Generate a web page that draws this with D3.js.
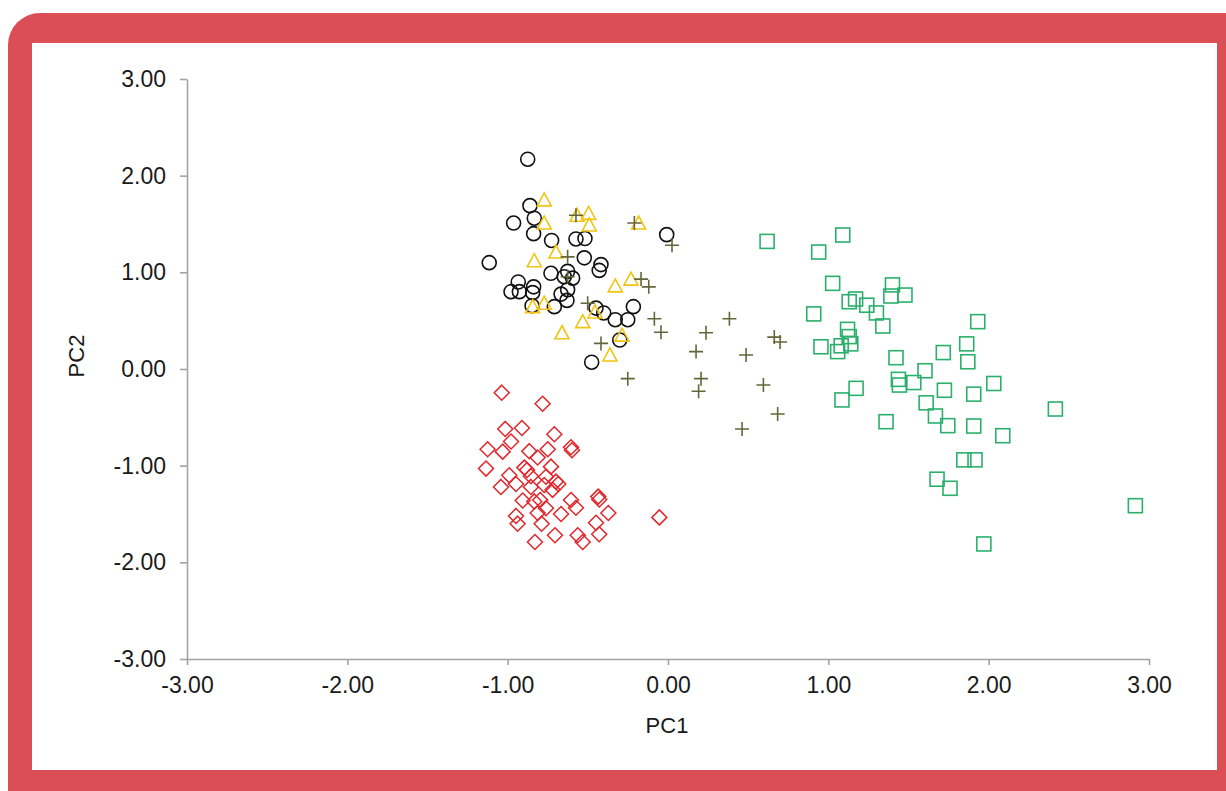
<!DOCTYPE html>
<html>
<head>
<meta charset="utf-8">
<script src="https://cdn.jsdelivr.net/npm/d3@7/dist/d3.min.js"></script>
<style>
  html, body { margin: 0; padding: 0; background: #ffffff; }
  svg { display: block; }
</style>
</head>
<body>
<svg id="chart" width="1226" height="791"></svg>
<script>
// ---- data (PC1, PC2) ----
const circlePoints = [
  [-0.875, 2.17], [-0.861, 1.69], [-0.834, 1.56], [-0.963, 1.51], [-0.838, 1.40],
  [-0.726, 1.33], [-0.574, 1.345], [-0.518, 1.35], [-0.008, 1.39], [-1.115, 1.10],
  [-0.522, 1.15], [-0.418, 1.08], [-0.429, 1.02], [-0.73, 0.99], [-0.626, 1.01],
  [-0.595, 0.94], [-0.647, 0.955], [-0.934, 0.90], [-0.979, 0.80], [-0.927, 0.80],
  [-0.838, 0.85], [-0.844, 0.79], [-0.667, 0.775], [-0.626, 0.82], [-0.63, 0.71],
  [-0.848, 0.655], [-0.709, 0.645], [-0.449, 0.63], [-0.401, 0.58], [-0.216, 0.645],
  [-0.329, 0.51], [-0.251, 0.51], [-0.301, 0.30], [-0.476, 0.07]
];
const trianglePoints = [
  [-0.772, 1.75], [-0.772, 1.51], [-0.495, 1.61], [-0.491, 1.49], [-0.568, 1.59],
  [-0.183, 1.51], [-0.699, 1.21], [-0.834, 1.12], [-0.329, 0.86], [-0.231, 0.93],
  [-0.844, 0.645], [-0.772, 0.68], [-0.455, 0.59], [-0.532, 0.49], [-0.661, 0.375],
  [-0.287, 0.35], [-0.362, 0.145]
];
const plusPoints = [
  [-0.574, 1.59], [-0.21, 1.51], [0.025, 1.28], [-0.626, 1.16], [-0.168, 0.93],
  [-0.12, 0.85], [-0.626, 0.955], [-0.501, 0.68], [-0.085, 0.52], [-0.044, 0.38],
  [-0.418, 0.265], [0.175, 0.18], [-0.251, -0.10], [0.383, 0.52], [0.237, 0.375],
  [0.663, 0.33], [0.699, 0.28], [0.487, 0.145], [0.206, -0.10], [0.191, -0.23],
  [0.595, -0.165], [0.684, -0.465], [0.462, -0.62]
];
const diamondPoints = [
  [-1.037, -0.245], [-0.782, -0.36], [-1.015, -0.62], [-0.911, -0.61], [-0.709, -0.675],
  [-0.979, -0.75], [-1.125, -0.83], [-1.031, -0.855], [-0.865, -0.85], [-0.75, -0.83],
  [-0.605, -0.81], [-0.599, -0.84], [-0.813, -0.915], [-1.135, -1.03], [-0.896, -1.02],
  [-0.879, -1.045], [-0.73, -1.01], [-0.99, -1.10], [-0.855, -1.11], [-0.761, -1.115],
  [-0.699, -1.165], [-0.684, -1.19], [-1.042, -1.22], [-0.948, -1.19], [-0.855, -1.22],
  [-0.772, -1.20], [-0.72, -1.25], [-0.906, -1.36], [-0.834, -1.37], [-0.797, -1.355],
  [-0.605, -1.355], [-0.435, -1.32], [-0.429, -1.35], [-0.574, -1.435], [-0.761, -1.44],
  [-0.813, -1.49], [-0.948, -1.52], [-0.938, -1.60], [-0.788, -1.60], [-0.667, -1.50],
  [-0.372, -1.49], [-0.449, -1.59], [-0.429, -1.71], [-0.705, -1.72], [-0.83, -1.79],
  [-0.563, -1.72], [-0.532, -1.79], [-0.054, -1.535]
];
const squarePoints = [
  [1.09, 1.386], [0.94, 1.21], [0.618, 1.32], [1.027, 0.886], [1.40, 0.87],
  [1.39, 0.755], [1.478, 0.765], [1.13, 0.696], [1.17, 0.724], [1.24, 0.66],
  [1.30, 0.58], [1.34, 0.445], [0.909, 0.57], [1.12, 0.41], [1.13, 0.335],
  [1.14, 0.26], [0.954, 0.23], [1.058, 0.18], [1.08, 0.24], [1.932, 0.49],
  [1.863, 0.26], [1.87, 0.075], [1.717, 0.17], [1.422, 0.117], [1.603, -0.018],
  [1.437, -0.107], [1.443, -0.166], [1.533, -0.14], [1.724, -0.22], [2.032, -0.15],
  [1.907, -0.26], [1.173, -0.20], [1.085, -0.32], [1.61, -0.35], [1.36, -0.545],
  [1.668, -0.486], [1.745, -0.586], [1.907, -0.59], [2.088, -0.69], [2.416, -0.414],
  [1.845, -0.94], [1.915, -0.94], [1.678, -1.14], [1.759, -1.234], [2.915, -1.414],
  [1.97, -1.81]
];
const xTicks = [-3, -2, -1, 0, 1, 2, 3];
const yTicks = [-3, -2, -1, 0, 1, 2, 3];
const xTitle = "PC1";
const yTitle = "PC2";

// ---- drawing ----
const svg = d3.select("#chart");
const W = 1226, H = 791;

// frame
svg.append("rect").attr("x", 8).attr("y", 13).attr("width", W + 40).attr("height", H + 40)
  .attr("rx", 32).attr("ry", 32).attr("fill", "#dc4e55");
svg.append("rect").attr("x", 32).attr("y", 43).attr("width", 1185).attr("height", 727)
  .attr("fill", "#ffffff");

const x = d3.scaleLinear().domain([-3, 3]).range([187, 1149]);
const y = d3.scaleLinear().domain([-3, 3]).range([659, 79]);

const fontFam = "'Liberation Sans', Arial, Helvetica, sans-serif";
const f2 = d3.format(".2f");
const fmt = d => f2(d).replace("\u2212", "-");

const xAxis = svg.append("g").attr("transform", `translate(0,${y(-3)})`)
  .call(d3.axisBottom(x).tickValues(xTicks).tickFormat(fmt).tickSizeInner(6).tickSizeOuter(0).tickPadding(12));
const yAxis = svg.append("g").attr("transform", `translate(${x(-3)},0)`)
  .call(d3.axisLeft(y).tickValues(yTicks).tickFormat(fmt).tickSizeInner(7).tickSizeOuter(0).tickPadding(14));

[xAxis, yAxis].forEach(g => {
  g.select(".domain").attr("stroke", "#a3a3a3").attr("stroke-width", 1.6);
  g.selectAll(".tick line").attr("stroke", "#a3a3a3").attr("stroke-width", 1.6);
  g.selectAll(".tick text").attr("fill", "#1a1a1a").style("font-family", fontFam).style("font-size", "23px");
});

svg.append("text").attr("x", 667).attr("y", 733).attr("text-anchor", "middle")
  .style("font-family", fontFam).style("font-size", "22px").attr("fill", "#1a1a1a").text(xTitle);
svg.append("text").attr("transform", "translate(84,356) rotate(-90)").attr("text-anchor", "middle")
  .style("font-family", fontFam).style("font-size", "22px").attr("fill", "#1a1a1a").text(yTitle);

const marks = svg.append("g").attr("fill", "none");

// diamonds
marks.append("g").selectAll("path").data(diamondPoints).join("path")
  .attr("d", d => { const cx = x(d[0]), cy = y(d[1]), r = 7.5;
    return `M${cx},${cy - r}L${cx + r},${cy}L${cx},${cy + r}L${cx - r},${cy}Z`; })
  .attr("stroke", "#e3262b").attr("stroke-width", 1.5);

// squares
marks.append("g").selectAll("rect").data(squarePoints).join("rect")
  .attr("x", d => x(d[0]) - 7).attr("y", d => y(d[1]) - 7)
  .attr("width", 14).attr("height", 14)
  .attr("stroke", "#2bb06c").attr("stroke-width", 1.6);

// circles
marks.append("g").selectAll("circle").data(circlePoints).join("circle")
  .attr("cx", d => x(d[0])).attr("cy", d => y(d[1])).attr("r", 7)
  .attr("stroke", "#111111").attr("stroke-width", 1.6);

// triangles
marks.append("g").selectAll("path").data(trianglePoints).join("path")
  .attr("d", d => { const cx = x(d[0]), cy = y(d[1]);
    return `M${cx},${cy - 7}L${cx + 7},${cy + 6}L${cx - 7},${cy + 6}Z`; })
  .attr("stroke", "#f1c40f").attr("stroke-width", 1.6);

// plus
marks.append("g").selectAll("path").data(plusPoints).join("path")
  .attr("d", d => { const cx = x(d[0]), cy = y(d[1]), r = 7;
    return `M${cx - r},${cy}L${cx + r},${cy}M${cx},${cy - r}L${cx},${cy + r}`; })
  .attr("stroke", "#65653a").attr("stroke-width", 1.6);
</script>
</body>
</html>
